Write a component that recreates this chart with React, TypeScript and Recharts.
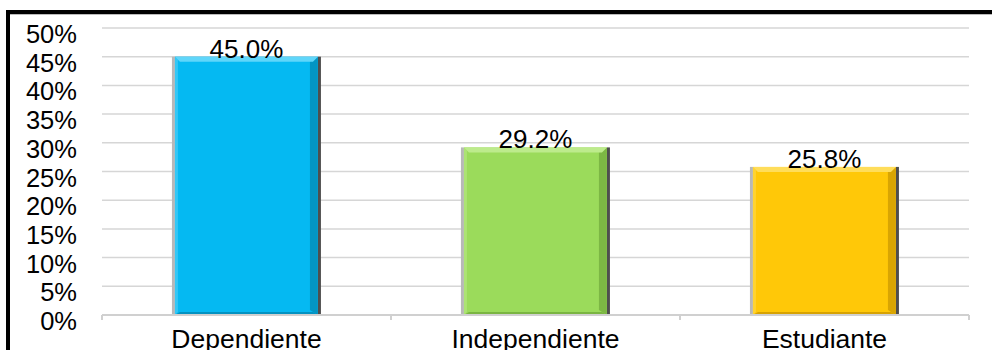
import React from "react";
import { BarChart, Bar, XAxis, YAxis, CartesianGrid, LabelList, Cell } from "recharts";

const categories = ["Dependiente", "Independiente", "Estudiante"];
const values = [45.0, 29.2, 25.8];
const colors = ["#05B9F2", "#9BDB5B", "#FFC808"];
const darkColors = ["#0386B0", "#6FA83A", "#C99600"];
const lightColors = ["#5FD6FA", "#BDEB8C", "#FFDD5A"];
const yTicks = [0, 5, 10, 15, 20, 25, 30, 35, 40, 45, 50];

const data = categories.map((name, i) => ({ name, value: values[i], idx: i }));

const FONT = "'Liberation Sans', Arial, sans-serif";

const BevelBar = (props: any) => {
  const { x, y, width, height, idx } = props;
  if (height <= 0) return null;
  const fill = colors[idx];
  const dark = darkColors[idx];
  const light = lightColors[idx];
  const s = 3;
  const b = 5;
  const ix = x + s;
  const iw = width - 2 * s;
  return (
    <g>
      <rect x={x} y={y} width={s} height={height} fill="#B8B8B8" />
      <rect x={x + width - s} y={y} width={s} height={height} fill="#4E4E4E" />
      <rect x={ix} y={y} width={iw} height={height} fill={fill} />
      <polygon
        points={`${ix + iw},${y} ${ix + iw},${y + height} ${ix + iw - b - 3},${y + height - b} ${ix + iw - b - 3},${y + b}`}
        fill={dark}
        opacity={0.7}
      />
      <polygon
        points={`${ix},${y + height} ${ix + iw},${y + height} ${ix + iw - b},${y + height - 3} ${ix + b},${y + height - 3}`}
        fill={dark}
        opacity={0.75}
      />
      <polygon
        points={`${ix},${y} ${ix + iw},${y} ${ix + iw - b},${y + b} ${ix + b},${y + b}`}
        fill={light}
      />
      <polygon
        points={`${ix},${y} ${ix + 3},${y + 3} ${ix + 3},${y + height - 3} ${ix},${y + height}`}
        fill={light}
        opacity={0.5}
      />
    </g>
  );
};

const YTick = (props: any) => {
  const { x, y, payload } = props;
  return (
    <text x={x} y={y + 15} textAnchor="end" fontSize={25.5} fontFamily={FONT} fill="#000">
      {payload.value}%
    </text>
  );
};

const XTick = (props: any) => {
  const { x, y, payload, index } = props;
  const off = payload.offset || 0;
  return (
    <g>
      <line x1={x - off} y1={y} x2={x - off} y2={y + 5} stroke="#D0D0D0" strokeWidth={2} />
      {index === categories.length - 1 ? (
        <line x1={x + off} y1={y} x2={x + off} y2={y + 5} stroke="#D0D0D0" strokeWidth={2} />
      ) : null}
      <text x={x} y={y + 33} textAnchor="middle" fontSize={26.5} fontFamily={FONT} fill="#000">
        {payload.value}
      </text>
    </g>
  );
};

const ValueLabel = (props: any) => {
  const { x, y, width, value } = props;
  return (
    <text x={x + width / 2} y={y + 1} textAnchor="middle" fontSize={26} fontFamily={FONT} fill="#000">
      {Number(value).toFixed(1)}%
    </text>
  );
};

export default function App() {
  return (
    <div style={{ position: "absolute", left: 0, top: 0, width: 992, height: 350, overflow: "hidden", background: "#fff" }}>
      <div
        style={{
          position: "absolute",
          left: 6,
          top: 10,
          width: 1100,
          height: 500,
          borderTop: "4px solid #000",
          borderLeft: "4px solid #000",
          boxShadow: "inset 0 1px 0 #BBB",
        }}
      />
      <div style={{ position: "absolute", left: 0, top: 0 }}>
        <BarChart
          width={992}
          height={350}
          data={data}
          margin={{ top: 28, right: 23, bottom: 0, left: 0 }}
          barCategoryGap="24.2%"
        >
          <CartesianGrid vertical={false} stroke="#D6D6D6" strokeWidth={1.5} />
          <YAxis
            width={102}
            domain={[0, 50]}
            ticks={yTicks}
            axisLine={false}
            tickLine={false}
            tickSize={0}
            tickMargin={25}
            tick={<YTick />}
            interval={0}
          />
          <XAxis
            dataKey="name"
            height={35}
            axisLine={{ stroke: "#D0D0D0", strokeWidth: 2 }}
            tickLine={false}
            tickSize={0}
            tickMargin={0}
            tick={<XTick />}
            interval={0}
          />
          <Bar dataKey="value" isAnimationActive={false} shape={<BevelBar />}>
            {data.map((d, i) => (
              <Cell key={i} fill={colors[i]} />
            ))}
            <LabelList dataKey="value" content={<ValueLabel />} />
          </Bar>
        </BarChart>
      </div>
    </div>
  );
}
